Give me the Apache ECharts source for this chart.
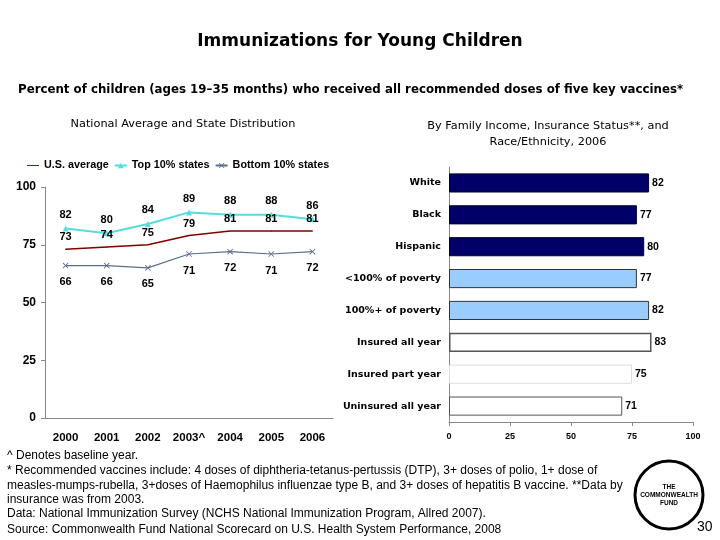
<!DOCTYPE html>
<html><head><meta charset="utf-8">
<script src="https://cdn.jsdelivr.net/npm/echarts@6/dist/echarts.min.js"></script>
<style>html,body{margin:0;padding:0;background:#fff}#c{width:720px;height:540px}</style>
</head><body><div id="c"></div>
<script>
var years = ['2000','2001','2002','2003^','2004','2005','2006'];
var usAverage = [73,74,75,79,81,81,81];
var top10 = [82,80,84,89,88,88,86];
var bottom10 = [66,66,65,71,72,71,72];
var barCats = ['White','Black','Hispanic','<100% of poverty','100%+ of poverty','Insured all year','Insured part year','Uninsured all year'];
var barVals = [82,77,80,77,82,83,75,71];
var valueTicks = [0,25,50,75,100];

var F = 'Liberation Sans, Arial, sans-serif';
var D = 'DejaVu Sans, sans-serif';
var barStyles = [
  {color:'#000066',borderColor:'#000033',borderWidth:1},
  {color:'#000066',borderColor:'#000033',borderWidth:1},
  {color:'#000066',borderColor:'#000033',borderWidth:1},
  {color:'#99CCFF',borderColor:'#333333',borderWidth:1},
  {color:'#99CCFF',borderColor:'#333333',borderWidth:1},
  {color:'#ffffff',borderColor:'#555555',borderWidth:1.5},
  {color:'#ffffff',borderColor:'#dddddd',borderWidth:1},
  {color:'#ffffff',borderColor:'#555555',borderWidth:1}
];
var xShape = 'path://M0,1L1,0L5,4L9,0L10,1L6,5L10,9L9,10L5,6L1,10L0,9L4,5Z';

var chart = echarts.init(document.getElementById('c'));
chart.setOption({
  animation:false,
  backgroundColor:'#fff',
  legend:{
    left:22, top:155, itemGap:5, itemWidth:12, itemHeight:7,
    textStyle:{fontFamily:F,fontWeight:'bold',fontSize:10.8,color:'#000'},
    data:[{name:'U.S. average',icon:'path://M0,0L40,0L40,3L0,3Z'},'Top 10% states','Bottom 10% states']
  },
  grid:[
    {left:45, right:387, top:187, bottom:122},
    {left:449, right:27, top:167, bottom:118}
  ],
  xAxis:[
    {gridIndex:0,type:'category',data:years,boundaryGap:true,
     axisLine:{lineStyle:{color:'#888'}},axisTick:{lineStyle:{color:'#888'},length:4,alignWithLabel:false},
     axisLabel:{fontFamily:F,fontWeight:'bold',fontSize:11.5,color:'#000',margin:14,interval:0}},
    {gridIndex:1,type:'value',min:0,max:100,interval:25,
     splitLine:{show:false},axisLine:{show:true,lineStyle:{color:'#888'}},axisTick:{show:true,length:4,lineStyle:{color:'#888'}},
     axisLabel:{fontFamily:F,fontWeight:'bold',fontSize:9,color:'#000',margin:10}}
  ],
  yAxis:[
    {gridIndex:0,type:'value',min:0,max:100,interval:25,
     splitLine:{show:false},axisLine:{show:true,lineStyle:{color:'#888'}},axisTick:{show:true,length:4,lineStyle:{color:'#888'}},
     axisLabel:{fontFamily:F,fontWeight:'bold',fontSize:12,color:'#000',margin:9}},
    {gridIndex:1,type:'category',data:barCats,inverse:true,
     axisLine:{lineStyle:{color:'#888'}},axisTick:{length:4,lineStyle:{color:'#888'}},
     axisLabel:{fontFamily:D,fontWeight:'bold',fontSize:9.5,color:'#000',margin:8,interval:0}}
  ],
  series:[
    {name:'U.S. average',type:'line',xAxisIndex:0,yAxisIndex:0,data:usAverage,
     symbol:'circle',symbolSize:1,showSymbol:true,lineStyle:{color:'#800000',width:1.5},itemStyle:{color:'#800000'},
     label:{show:true,position:'top',distance:6,fontFamily:F,fontWeight:'bold',fontSize:11,color:'#000'}},
    {name:'Top 10% states',type:'line',xAxisIndex:0,yAxisIndex:0,data:top10,
     symbol:'triangle',symbolSize:6,lineStyle:{color:'#55DDDD',width:2},itemStyle:{color:'#55DDDD'},
     label:{show:true,position:'top',distance:5,fontFamily:F,fontWeight:'bold',fontSize:11,color:'#000'}},
    {name:'Bottom 10% states',type:'line',xAxisIndex:0,yAxisIndex:0,data:bottom10,
     symbol:xShape,symbolSize:6,lineStyle:{color:'#5A6E8C',width:1.2},itemStyle:{color:'#5A6E8C'},
     label:{show:true,position:'bottom',distance:8,fontFamily:F,fontWeight:'bold',fontSize:11,color:'#000'}},
    {name:'bars',type:'bar',xAxisIndex:1,yAxisIndex:1,barWidth:'60%',
     data:barVals.map(function(v,i){return {value:v,itemStyle:barStyles[i]};}),
     label:{show:true,position:'right',distance:3,fontFamily:F,fontWeight:'bold',fontSize:10.5,color:'#000'}}
  ],
  graphic:[
    {type:'text',left:'center',top:33,style:{text:'Immunizations for Young Children',font:'bold 17px '+D,fill:'#000'}},
    {type:'text',x:18,y:84,style:{text:'Percent of children (ages 19\u201335 months) who received all recommended doses of five key vaccines*',font:'bold 11.8px '+D,fill:'#000'}},
    {type:'text',x:183,y:119,style:{text:'National Average and State Distribution',font:'11.3px '+D,fill:'#000',align:'center'}},
    {type:'text',x:548,y:118,style:{text:'By Family Income, Insurance Status**, and\nRace/Ethnicity, 2006',font:'11.3px '+D,fill:'#000',align:'center',lineHeight:16}},
    {type:'text',x:7,y:450,style:{text:'^ Denotes baseline year.',font:'12px '+F,fill:'#000'}},
    {type:'text',x:7,y:464,style:{text:'* Recommended vaccines include: 4 doses of diphtheria-tetanus-pertussis (DTP), 3+ doses of polio, 1+ dose of\nmeasles-mumps-rubella, 3+doses of Haemophilus influenzae type B, and 3+ doses of hepatitis B vaccine. **Data by\ninsurance was from 2003.',font:'12px '+F,fill:'#000',lineHeight:14.3}},
    {type:'text',x:7,y:508,style:{text:'Data: National Immunization Survey (NCHS National Immunization Program, Allred 2007).',font:'12px '+F,fill:'#000'}},
    {type:'text',x:7,y:524,style:{text:'Source: Commonwealth Fund National Scorecard on U.S. Health System Performance, 2008',font:'12px '+F,fill:'#000'}},
    {type:'circle',shape:{cx:669,cy:495,r:34},style:{fill:'#fff',stroke:'#000',lineWidth:3}},
    {type:'text',x:669,y:483,style:{text:'THE\nCOMMONWEALTH\nFUND',font:'bold 6.5px '+F,fill:'#000',align:'center',lineHeight:8}},
    {type:'text',x:697,y:520,style:{text:'30',font:'14px '+F,fill:'#000'}}
  ]
});
</script></body></html>
